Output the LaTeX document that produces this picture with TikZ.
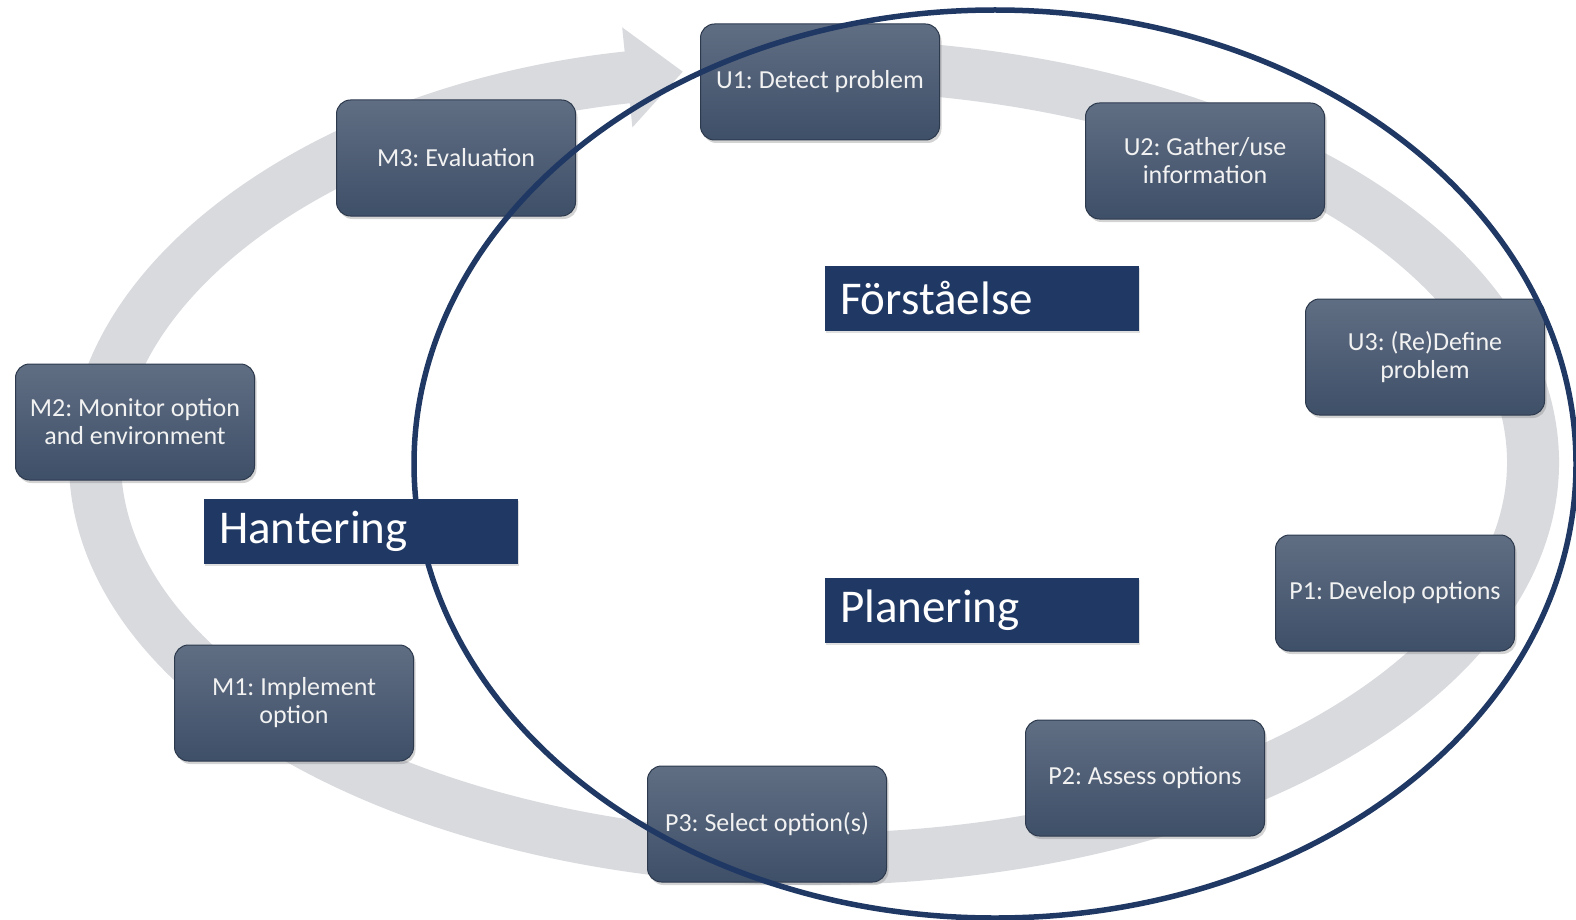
\documentclass[tikz,border=0pt]{standalone}
\usepackage{fontspec}
\setmainfont{Carlito}
\usetikzlibrary{arrows.meta,shadows}
\frenchspacing

\definecolor{boxtop}{RGB}{96,110,131}
\definecolor{boxbot}{RGB}{62,79,104}
\definecolor{boxline}{RGB}{45,58,78}
\definecolor{navy}{RGB}{32,56,100}
\definecolor{ringgray}{RGB}{216,218,222}
\definecolor{boxtext}{RGB}{242,242,242}

\tikzset{
    stepbox/.style={rounded corners=14pt, draw=boxline, line width=1pt,
        top color=boxtop, bottom color=boxbot,
        minimum width=239pt, minimum height=116pt, inner sep=2pt,
        text=boxtext, align=center, font=\fontsize{26}{28}\selectfont,
        drop shadow={shadow xshift=2pt, shadow yshift=-3pt, opacity=0.35}},
    phasebox/.style={fill=navy, minimum width=314pt, minimum height=65pt,
        text width=284pt, inner xsep=15pt, align=left, text=white,
        font=\fontsize{47}{50}\selectfont,
        drop shadow={shadow xshift=1pt, shadow yshift=-2pt, opacity=0.25}},
    ringarrow/.style={ringgray, line width=52pt,
        -{Triangle[width=97pt, length=56pt]}}
}

\begin{document}
\begin{tikzpicture}[x=1pt, y=-1pt]
    \useasboundingbox (0,0) rectangle (1576,920);

    % grey cycle behind the steps
    \coordinate (ringc) at (814,462);
    \path (ringc) ++(-95:719 and 397) coordinate (ringstart);
    \draw[ringarrow] (ringstart) arc[start angle=-95, end angle=259.5, x radius=719, y radius=397];

    % steps
    \foreach \nm/\px/\py/\txt in {
        u1/820/82/{U1: Detect problem},
        u2/1205/161/{U2: Gather/use\\information},
        u3/1425/357/{U3: (Re)Define\\problem},
        p1/1395/593/{P1: Develop options},
        p2/1145/778/{P2: Assess options},
        p3/767/824/{P3: Select option(s)},
        m1/294/703/{M1: Implement\\option},
        m2/135/422/{M2: Monitor option\\and environment},
        m3/456/158/{M3: Evaluation}} {
        \node[stepbox] (\nm) at (\px,\py) {\txt};
    }

    % phases
    \node[phasebox] (forst) at (982,298) {Förståelse};
    \node[phasebox] (plan) at (982,610) {Planering};
    \node[phasebox] (hant) at (361,531) {Hantering};

    \draw[navy, line width=5.5pt] (995,464) ellipse [x radius=581, y radius=454];
\end{tikzpicture}
\end{document}
